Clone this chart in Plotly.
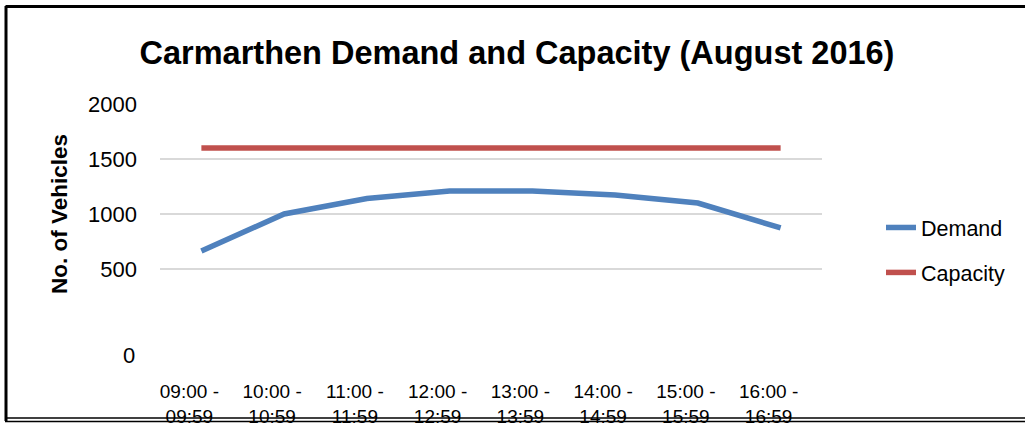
import plotly.graph_objects as go

categories = ["09:00 -<br>09:59", "10:00 -<br>10:59", "11:00 -<br>11:59", "12:00 -<br>12:59",
              "13:00 -<br>13:59", "14:00 -<br>14:59", "15:00 -<br>15:59", "16:00 -<br>16:59"]
demand = [664, 1000, 1140, 1209, 1209, 1173, 1100, 873]
capacity = [1600, 1600, 1600, 1600, 1600, 1600, 1600, 1600]
y_tickvals = [0, 500, 1000, 1500, 2000]
y_ticktext = ["", "500", "1000", "1500", "2000"]

FONT = "Liberation Sans"
W, H = 1025, 431
L, R, T, B = 160, 822, 104, 324

def px(x):
    return (x - L) / (R - L)

def py(y):
    return (B - y) / (B - T)

fig = go.Figure()
fig.add_trace(go.Scatter(x=categories, y=demand, mode="lines", name="Demand",
                         line=dict(color="#4f81bd", width=5.5), legendgroup="a"))
fig.add_trace(go.Scatter(x=categories, y=capacity, mode="lines", name="Capacity",
                         line=dict(color="#c0504d", width=5.5), legendgroup="b"))

shapes = [
    dict(type="line", xref="paper", yref="paper", x0=px(5.5), x1=px(1030), y0=py(6.5), y1=py(6.5),
         line=dict(color="#000", width=3)),
    dict(type="line", xref="paper", yref="paper", x0=px(6), x1=px(6), y0=py(6), y1=py(421),
         line=dict(color="#000", width=3)),
    dict(type="line", xref="paper", yref="paper", x0=px(5), x1=px(1030), y0=py(418), y1=py(418),
         line=dict(color="#000", width=1.5)),
    dict(type="line", xref="paper", yref="paper", x0=px(5), x1=px(1030), y0=py(421.5), y1=py(421.5),
         line=dict(color="#000", width=1.5)),
]

fig.update_layout(
    width=W, height=H,
    margin=dict(l=L, r=W - R, t=T, b=H - B, autoexpand=False),
    paper_bgcolor="white", plot_bgcolor="white",
    font=dict(family=FONT, color="#000", size=19),
    title=dict(text="<b>Carmarthen Demand and Capacity (August 2016)</b>",
               x=517 / W, xanchor="center", y=1 - 53 / H, yanchor="middle",
               font=dict(size=32.5, family=FONT, color="#000")),
    xaxis=dict(type="category", range=[-0.5, 7.5], showgrid=False, zeroline=False,
               showline=False, ticks="", tickfont=dict(size=19), ticklabelstandoff=54,
               ticklabelshift=-12, automargin=False),
    yaxis=dict(range=[0, 2000], tickvals=y_tickvals, ticktext=y_ticktext,
               showgrid=True, gridcolor="#d9d9d9", gridwidth=2, zeroline=False,
               showline=False, ticks="", tickfont=dict(size=22), ticklabelstandoff=22,
               automargin=False,
               title=dict(text="<b>No. of Vehicles</b>", font=dict(size=22.5), standoff=14)),
    legend=dict(x=px(881), y=py(207), xanchor="left", yanchor="top",
                font=dict(size=21.5), tracegroupgap=14, bgcolor="rgba(0,0,0,0)"),
    shapes=shapes,
    annotations=[dict(text="0", xref="paper", yref="paper", x=px(137), y=py(355),
                      xanchor="right", yanchor="middle", showarrow=False,
                      font=dict(size=22))],
)

fig.write_html("out.html", config={"displayModeBar": False},
               post_script="document.body.style.margin='0px';")
